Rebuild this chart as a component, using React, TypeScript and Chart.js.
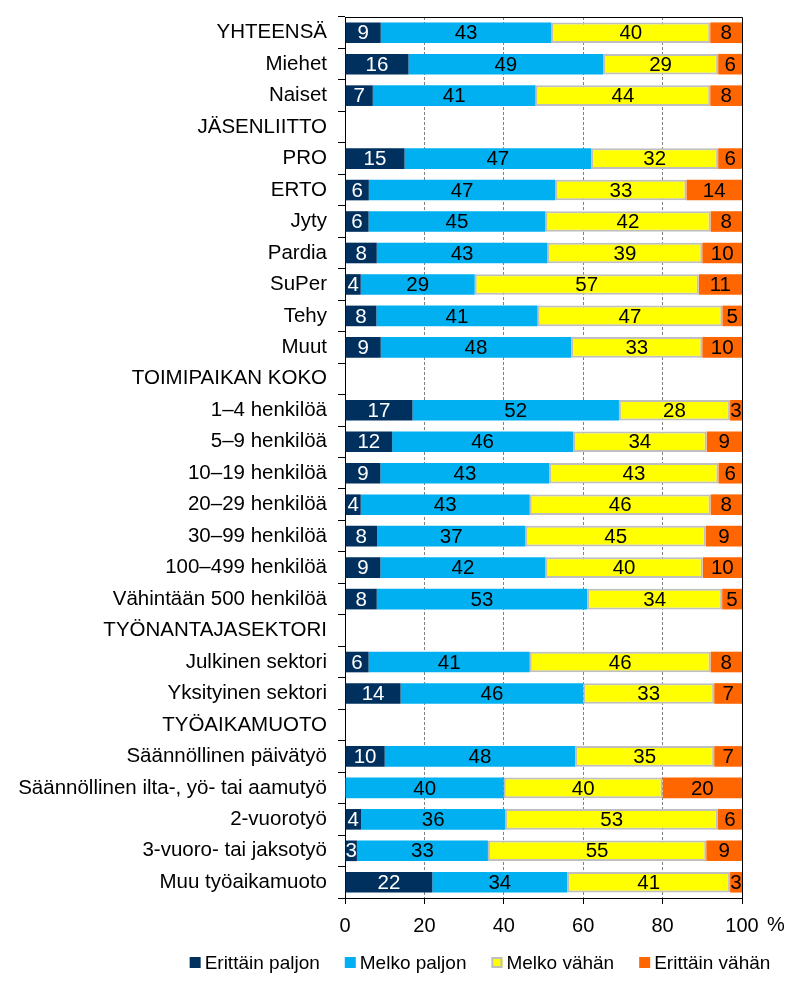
import React, { useEffect, useRef } from 'react';
import { Chart, registerables } from 'chart.js';

Chart.register(...registerables);

const FONT = '"Liberation Sans", Arial, Helvetica, sans-serif';

const categories = [
  'YHTEENSÄ',
  'Miehet',
  'Naiset',
  'JÄSENLIITTO',
  'PRO',
  'ERTO',
  'Jyty',
  'Pardia',
  'SuPer',
  'Tehy',
  'Muut',
  'TOIMIPAIKAN KOKO',
  '1–4 henkilöä',
  '5–9 henkilöä',
  '10–19 henkilöä',
  '20–29 henkilöä',
  '30–99 henkilöä',
  '100–499 henkilöä',
  'Vähintään 500 henkilöä',
  'TYÖNANTAJASEKTORI',
  'Julkinen sektori',
  'Yksityinen sektori',
  'TYÖAIKAMUOTO',
  'Säännöllinen päivätyö',
  'Säännöllinen ilta-, yö- tai aamutyö',
  '2-vuorotyö',
  '3-vuoro- tai jaksotyö',
  'Muu työaikamuoto',
];

const erittainPaljon = [9, 16, 7, null, 15, 6, 6, 8, 4, 8, 9, null, 17, 12, 9, 4, 8, 9, 8, null, 6, 14, null, 10, 0, 4, 3, 22];
const melkoPaljon = [43, 49, 41, null, 47, 47, 45, 43, 29, 41, 48, null, 52, 46, 43, 43, 37, 42, 53, null, 41, 46, null, 48, 40, 36, 33, 34];
const melkoVahan = [40, 29, 44, null, 32, 33, 42, 39, 57, 47, 33, null, 28, 34, 43, 46, 45, 40, 34, null, 46, 33, null, 35, 40, 53, 55, 41];
const erittainVahan = [8, 6, 8, null, 6, 14, 8, 10, 11, 5, 10, null, 3, 9, 6, 8, 9, 10, 5, null, 8, 7, null, 7, 20, 6, 9, 3];

const seriesNames = ['Erittäin paljon', 'Melko paljon', 'Melko vähän', 'Erittäin vähän'];
const seriesValues = [erittainPaljon, melkoPaljon, melkoVahan, erittainVahan];
const seriesColors = ['#00305E', '#00B0F0', '#FFFF00', '#FF6600'];
const seriesBorders = ['#00305E', '#00B0F0', '#BFBFBF', '#FF6600'];
const seriesBorderWidths = [0, 0, 2, 0];
const labelColors = ['#FFFFFF', '#000000', '#000000', '#000000'];

const xTickValues = [0, 20, 40, 60, 80, 100];

// 100 % stacked: each row is scaled to its own total, as in the original.
function rowTotal(i: number): number {
  let s = 0;
  for (const arr of seriesValues) s += (arr[i] as number) || 0;
  return s;
}

const valueLabelPlugin = {
  id: 'valueLabels',
  afterDatasetsDraw(chart: any) {
    const ctx = chart.ctx;
    ctx.save();
    ctx.font = `20.5px ${FONT}`;
    ctx.textAlign = 'center';
    ctx.textBaseline = 'middle';
    chart.data.datasets.forEach((ds: any, di: number) => {
      const meta = chart.getDatasetMeta(di);
      meta.data.forEach((el: any, i: number) => {
        const raw = seriesValues[di][i];
        if (raw === null || raw === undefined || raw === 0) return;
        const cx = (el.x + el.base) / 2;
        ctx.fillStyle = labelColors[di];
        ctx.fillText(String(raw), cx, el.y + 1);
      });
    });
    ctx.restore();
  },
};

const framePlugin = {
  id: 'frameAndExtras',
  afterDraw(chart: any) {
    const ctx = chart.ctx;
    const { left, right, top, bottom } = chart.chartArea;
    ctx.save();
    ctx.strokeStyle = '#000000';
    ctx.lineWidth = 1;
    ctx.beginPath();
    ctx.moveTo(left, Math.round(top) + 0.5);
    ctx.lineTo(Math.round(right) + 0.5, Math.round(top) + 0.5);
    ctx.lineTo(Math.round(right) + 0.5, bottom);
    ctx.stroke();

    // "%" unit after the last x tick label
    ctx.fillStyle = '#000000';
    ctx.font = `20px ${FONT}`;
    ctx.textAlign = 'left';
    ctx.textBaseline = 'middle';
    ctx.fillText('%', right + 25, bottom + 27);

    // legend
    ctx.font = `19px ${FONT}`;
    const box = 11;
    const gap = 4;
    const spacing = 25;
    const widths = seriesNames.map((n) => ctx.measureText(n).width);
    const total = widths.reduce((a, b) => a + b, 0) + seriesNames.length * (box + gap) + (seriesNames.length - 1) * spacing;
    let x = 480 - total / 2;
    const cy = 962.5;
    seriesNames.forEach((name, i) => {
      ctx.fillStyle = seriesColors[i];
      ctx.fillRect(x, cy - box / 2, box, box);
      if (seriesBorderWidths[i] > 0) {
        ctx.strokeStyle = seriesBorders[i];
        ctx.lineWidth = 2;
        ctx.strokeRect(x + 1, cy - box / 2 + 1, box - 2, box - 2);
      }
      ctx.fillStyle = '#000000';
      ctx.textAlign = 'left';
      ctx.textBaseline = 'middle';
      ctx.fillText(name, x + box + gap, cy + 1);
      x += box + gap + widths[i] + spacing;
    });
    ctx.restore();
  },
};

export default function App() {
  const canvasRef = useRef<HTMLCanvasElement | null>(null);

  useEffect(() => {
    if (!canvasRef.current) return;
    const datasets = seriesNames.map((name, di) => ({
      label: name,
      data: seriesValues[di].map((v, i) => (v === null ? null : ((v as number) / rowTotal(i)) * 100)),
      backgroundColor: seriesColors[di],
      borderColor: seriesBorders[di],
      borderWidth: seriesBorderWidths[di],
      borderSkipped: false,
      barPercentage: 0.655,
      categoryPercentage: 1,
    }));

    const chart = new Chart(canvasRef.current, {
      type: 'bar',
      data: { labels: categories, datasets },
      plugins: [valueLabelPlugin, framePlugin],
      options: {
        indexAxis: 'y',
        responsive: false,
        maintainAspectRatio: false,
        animation: false,
        devicePixelRatio: 1,
        layout: { padding: { left: 0, right: 61, top: 17, bottom: 0 } },
        plugins: {
          legend: { display: false },
          tooltip: { enabled: false },
          title: { display: false },
        },
        scales: {
          x: {
            type: 'linear',
            stacked: true,
            min: 0,
            max: 100,
            afterBuildTicks: (scale: any) => {
              scale.ticks = xTickValues.map((v) => ({ value: v }));
            },
            afterFit: (scale: any) => {
              scale.height = 85;
              scale.paddingLeft = 0;
              scale.paddingRight = 0;
            },
            ticks: {
              color: '#000000',
              font: { family: FONT, size: 20 },
              padding: 10,
              maxRotation: 0,
              callback: (v: any) => String(v),
            },
            grid: {
              display: true,
              drawOnChartArea: true,
              drawTicks: true,
              tickLength: 6,
              tickColor: '#000000',
              color: (c: any) => (c.index === 0 || c.index === xTickValues.length - 1 ? 'rgba(0,0,0,0)' : '#808080'),
              lineWidth: 1,
            },
            border: {
              display: true,
              color: '#000000',
              width: 1,
              dash: (c: any) => (c.index === 0 || c.index === xTickValues.length - 1 ? [] : [3, 2]),
            },
          },
          y: {
            type: 'category',
            stacked: true,
            offset: true,
            afterFit: (scale: any) => {
              scale.width = 345;
              scale.paddingTop = 0;
              scale.paddingBottom = 0;
            },
            ticks: {
              color: '#000000',
              font: { family: FONT, size: 20.5 },
              padding: 11,
              autoSkip: false,
            },
            grid: {
              display: true,
              offset: true,
              drawOnChartArea: false,
              drawTicks: true,
              tickLength: 7,
              tickColor: '#000000',
              color: '#000000',
            },
            border: { display: true, color: '#000000', width: 1 },
          },
        },
      },
    } as any);
    return () => chart.destroy();
  }, []);

  return (
    <div style={{ position: 'fixed', left: 0, top: 0, width: 803, height: 983, background: '#ffffff' }}>
      <canvas ref={canvasRef} width={803} height={983} style={{ width: 803, height: 983, display: 'block' }} />
    </div>
  );
}
